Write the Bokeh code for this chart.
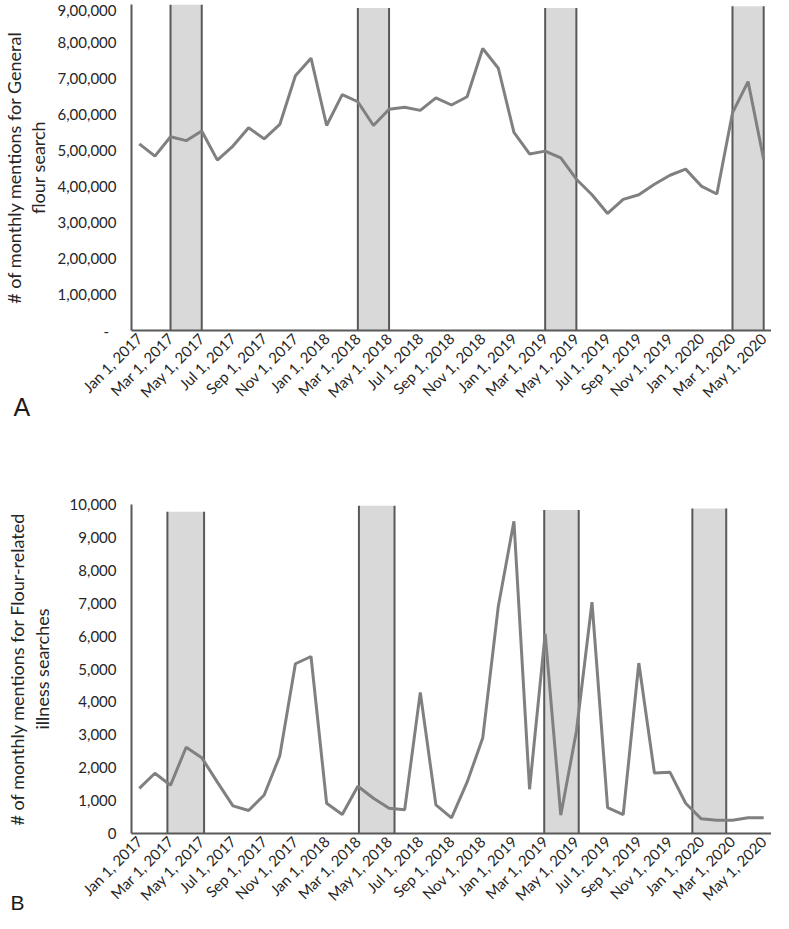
import math
from bokeh.plotting import figure
from bokeh.models import ColumnDataSource, Range1d, FixedTicker, Title
from bokeh.layouts import column
from bokeh.embed import file_html
from bokeh.resources import INLINE

# ---------------- data ----------------
months = [
    "Jan 2017", "Feb 2017", "Mar 2017", "Apr 2017", "May 2017", "Jun 2017", "Jul 2017", "Aug 2017",
    "Sep 2017", "Oct 2017", "Nov 2017", "Dec 2017", "Jan 2018", "Feb 2018", "Mar 2018", "Apr 2018",
    "May 2018", "Jun 2018", "Jul 2018", "Aug 2018", "Sep 2018", "Oct 2018", "Nov 2018", "Dec 2018",
    "Jan 2019", "Feb 2019", "Mar 2019", "Apr 2019", "May 2019", "Jun 2019", "Jul 2019", "Aug 2019",
    "Sep 2019", "Oct 2019", "Nov 2019", "Dec 2019", "Jan 2020", "Feb 2020", "Mar 2020", "Apr 2020",
    "May 2020",
]

general_flour = [
    518000, 484000, 538000, 527000, 554000, 473000, 512000, 563000, 532000, 572000,
    707000, 756000, 569000, 655000, 635000, 569000, 614000, 620000, 611000, 646000,
    626000, 649000, 783000, 728000, 550000, 490000, 498000, 479000, 420000, 377000,
    325000, 364000, 377000, 406000, 431000, 448000, 401000, 379000, 604000, 691000,
    475000,
]

illness_searches = [
    1370, 1830, 1465, 2620, 2305, 1560, 840, 700, 1170, 2360,
    5160, 5380, 920, 575, 1435, 1070, 770, 720, 4290, 870,
    475, 1560, 2900, 6910, 9490, 1345, 6070, 555, 3100, 7030,
    790, 575, 5180, 1840, 1860, 920, 445, 405, 405, 480,
    480,
]

x_tick_labels = [
    "Jan 1, 2017", "Mar 1, 2017", "May 1, 2017", "Jul 1, 2017", "Sep 1, 2017", "Nov 1, 2017",
    "Jan 1, 2018", "Mar 1, 2018", "May 1, 2018", "Jul 1, 2018", "Sep 1, 2018", "Nov 1, 2018",
    "Jan 1, 2019", "Mar 1, 2019", "May 1, 2019", "Jul 1, 2019", "Sep 1, 2019", "Nov 1, 2019",
    "Jan 1, 2020", "Mar 1, 2020", "May 1, 2020",
]

ya_ticks = [0, 100000, 200000, 300000, 400000, 500000, 600000, 700000, 800000, 900000]
ya_labels = ["-\u2002", "1,00,000", "2,00,000", "3,00,000", "4,00,000", "5,00,000",
             "6,00,000", "7,00,000", "8,00,000", "9,00,000"]
yb_ticks = [0, 1000, 2000, 3000, 4000, 5000, 6000, 7000, 8000, 9000, 10000]
yb_labels = ["0", "1,000", "2,000", "3,000", "4,000", "5,000", "6,000", "7,000", "8,000",
             "9,000", "10,000"]

# shaded periods (month index along the axis) and their heights
bands_a_start = [2, 14, 26, 38]
bands_a_end = [4, 16, 28, 40]
bands_a_top = [905000, 895000, 895000, 900000]

bands_b_start = [1.8, 14.07, 25.94, 35.43]
bands_b_end = [4.15, 16.35, 28.15, 37.6]
bands_b_top = [9780, 9960, 9830, 9880]

FONT = "Lato"
TEXT = "#262626"
W = 771


def make_panel(height, top_b, bottom_b, left_b, y_end, y_ticks, y_labels, y_title,
               values, b_start, b_end, b_top, label_standoff, title_standoff):
    n = len(months)
    p = figure(width=W, height=height,
               x_range=Range1d(-0.5, n - 0.5), y_range=Range1d(0, y_end),
               output_backend="svg", toolbar_location=None,
               min_border_left=left_b, min_border_right=0,
               min_border_top=top_b, min_border_bottom=bottom_b)
    p.outline_line_color = None
    p.xgrid.visible = False
    p.ygrid.visible = False
    p.background_fill_color = "white"

    zeros = [0] * len(b_start)
    p.quad(left=b_start, right=b_end, bottom=zeros, top=b_top,
           fill_color="#d9d9d9", line_color=None)
    p.segment(x0=b_start, y0=zeros, x1=b_start, y1=b_top, line_color="#595959", line_width=2)
    p.segment(x0=b_end, y0=zeros, x1=b_end, y1=b_top, line_color="#595959", line_width=2)

    src = ColumnDataSource(dict(x=list(range(n)), y=values, month=months))
    p.line("x", "y", source=src, line_color="#808080", line_width=3)

    xt = list(range(0, n, 2))
    p.xaxis.ticker = FixedTicker(ticks=xt)
    p.xaxis.major_label_overrides = {t: lab for t, lab in zip(xt, x_tick_labels)}
    p.xaxis.major_label_orientation = math.pi / 4
    p.xaxis.major_label_text_font = FONT
    p.xaxis.major_label_text_font_size = "15px"
    p.xaxis.major_label_text_color = TEXT
    p.xaxis.major_label_standoff = 5
    p.xaxis.axis_line_color = "#595959"
    p.xaxis.axis_line_width = 2

    p.yaxis.ticker = FixedTicker(ticks=y_ticks)
    p.yaxis.major_label_overrides = {t: lab for t, lab in zip(y_ticks, y_labels)}
    p.yaxis.major_label_text_font = FONT
    p.yaxis.major_label_text_font_size = "15px"
    p.yaxis.major_label_text_color = TEXT
    p.yaxis.major_label_standoff = label_standoff
    p.yaxis.axis_line_color = "#595959"
    p.yaxis.axis_line_width = 2
    p.yaxis.axis_label = y_title
    p.yaxis.axis_label_text_font = FONT
    p.yaxis.axis_label_text_font_size = "18px"
    p.yaxis.axis_label_text_font_style = "normal"
    p.yaxis.axis_label_text_color = TEXT
    p.yaxis.axis_label_text_line_height = 1.1
    p.yaxis.axis_label_standoff = title_standoff

    for ax in (p.xaxis, p.yaxis):
        ax.major_tick_line_color = None
        ax.minor_tick_line_color = None
        ax.major_tick_out = 0
        ax.major_tick_in = 0
        ax.minor_tick_out = 0
        ax.minor_tick_in = 0
    return p


pa = make_panel(454, 4, 124, 118, 905000, ya_ticks, ya_labels,
                "# of monthly mentions for General\nflour search",
                general_flour, bands_a_start, bands_a_end, bands_a_top, 15, 5)
pa.add_layout(Title(text="A", align="left", vertical_align="top", offset=-118, standoff=-36,
                    text_font="Liberation Sans", text_font_size="25px",
                    text_font_style="normal", text_color="#1a1a1a"), "below")

pb = make_panel(459, 50, 76, 121, 10000, yb_ticks, yb_labels,
                "# of monthly mentions for Flour-related\nillness searches",
                illness_searches, bands_b_start, bands_b_end, bands_b_top, 15, 14)
pb.add_layout(Title(text="B", align="left", vertical_align="top", offset=-121, standoff=-46,
                    text_font="Liberation Sans", text_font_size="21px",
                    text_font_style="normal", text_color="#1a1a1a"), "below")

layout = column(pa, pb, spacing=0)
open("out.html", "w").write(file_html(layout, INLINE))
